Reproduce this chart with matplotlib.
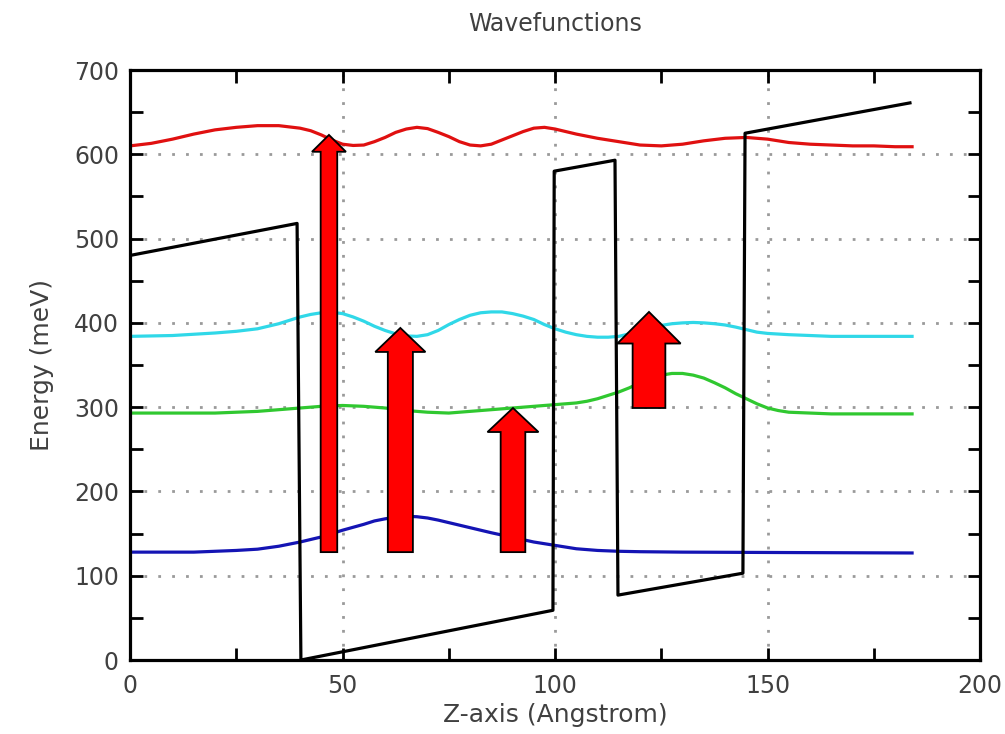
import matplotlib
matplotlib.use("Agg")
import matplotlib.pyplot as plt
from matplotlib.patches import FancyArrow
from matplotlib.ticker import MultipleLocator

# --- data ---------------------------------------------------------------
# state 4 (top)
z_red = [0, 5, 10, 15, 20, 25, 30, 35, 40, 42.5, 45, 47.5, 50, 52.5, 55,
         57.5, 60, 62.5, 65, 67.5, 70, 72.5, 75, 77.5, 80, 82.5, 85, 87.5,
         90, 92.5, 95, 97.5, 100, 105, 110, 115, 120, 125, 130, 135, 140,
         145, 150, 155, 160, 165, 170, 175, 180, 184]
e_red = [610, 613, 618, 624, 629, 632, 634, 634, 631, 628, 623, 617, 612,
         610.5, 611, 615, 620, 626, 630, 632, 630.5, 626, 621, 615, 611, 610,
         612, 617, 622, 627, 631, 632, 630, 624, 619, 615, 611, 610, 612, 616,
         619, 620, 618, 614, 612, 611, 610, 610, 609, 609]

# state 3
z_cyan = [0, 10, 20, 25, 30, 35, 37.5, 40, 42.5, 45, 47.5, 50, 52.5, 55,
          57.5, 60, 62.5, 65, 67.5, 70, 72.5, 75, 77.5, 80, 82.5, 85, 87.5,
          90, 92.5, 95, 97.5, 100, 102.5, 105, 107.5, 110, 112.5, 115, 117.5,
          120, 122.5, 125, 127.5, 130, 132.5, 135, 137.5, 140, 142.5, 145,
          147.5, 150, 155, 160, 165, 184]
e_cyan = [384, 385, 388, 390, 393, 399, 403, 407, 410, 412, 412.5, 411, 407,
          402, 396, 391, 387, 384.5, 384, 386, 391, 398, 404, 409, 412, 413,
          413, 411, 408, 404, 398, 393, 389, 386, 384, 383, 383, 384, 387,
          391, 394, 397, 399, 400, 400.5, 400, 399, 397.5, 395, 392, 389,
          387.5, 386, 385, 384, 384]

# state 2
z_green = [0, 20, 25, 30, 35, 40, 45, 50, 55, 60, 65, 70, 75, 80, 85, 90,
           95, 100, 105, 107.5, 110, 112.5, 115, 117.5, 120, 122.5, 125,
           127.5, 130, 132.5, 135, 137.5, 140, 142.5, 145, 147.5, 150, 152.5,
           155, 160, 165, 184]
e_green = [293, 293, 294, 295, 297, 299, 301, 302, 301, 299, 296, 294, 293,
           295, 297, 299, 301, 303, 305, 307, 310, 314, 318, 323, 329, 334,
           338, 340, 340, 338, 334.5, 329, 323, 316, 310, 304, 299, 296, 294,
           293, 292, 292]

# state 1 (ground)
z_blue = [0, 15, 20, 25, 30, 35, 40, 45, 50, 55, 57.5, 60, 62.5, 65, 67.5,
          70, 72.5, 75, 80, 85, 90, 95, 100, 105, 110, 115, 120, 130, 155,
          184]
e_blue = [128, 128, 129, 130, 131.5, 135, 140, 146, 154, 161, 165, 167.5,
          169.5, 170.5, 170, 168.5, 166, 163, 157, 151, 145.5, 140, 136, 132,
          130, 129, 128.5, 128, 127.5, 127]

# conduction band profile
band_z = [0, 39.3, 40.2, 99.5, 99.8, 114.1, 114.8, 144.2, 144.7, 183.5]
band_e = [480, 518, 0, 59, 580, 593, 77, 103, 625, 661]

# transitions: position, start level, end level
trans_z = [46.8, 63.6, 90.1, 122.1]
trans_from = [128, 128, 128, 299]
trans_to = [623, 394, 299, 413]

# --- plot -----------------------------------------------------------------
text_col = "#404040"
plt.rcParams["font.family"] = "DejaVu Sans"

fig = plt.figure(figsize=(10.05, 7.34), dpi=100)
ax = fig.add_axes([0.1294, 0.1008, 0.8458, 0.8038])

line_kw = dict(lw=2.3, zorder=2, solid_joinstyle="round")
ax.plot(z_red, e_red, color="#e01010", **line_kw)
ax.plot(z_cyan, e_cyan, color="#30d8e8", **line_kw)
ax.plot(z_green, e_green, color="#30c830", **line_kw)
ax.plot(z_blue, e_blue, color="#1414b4", **line_kw)
ax.plot(band_z, band_e, color="black", lw=2.3, zorder=2)

shaft_w = [3.9, 5.9, 5.8, 7.7]
head_w = [8.0, 11.8, 12.0, 14.9]
head_l = [20, 28.5, 28.5, 37.5]
for x0, e0, e1, sw, hw, hl in zip(trans_z, trans_from, trans_to,
                                  shaft_w, head_w, head_l):
    ax.add_patch(FancyArrow(x0, e0, 0, e1 - e0, width=sw, head_width=hw,
                            head_length=hl, length_includes_head=True,
                            facecolor="#ff0000", edgecolor="black",
                            lw=1.3, zorder=3))

ax.set_xlim(0, 200)
ax.set_ylim(0, 700)
ax.xaxis.set_major_locator(MultipleLocator(50))
ax.xaxis.set_minor_locator(MultipleLocator(25))
ax.yaxis.set_major_locator(MultipleLocator(100))
ax.yaxis.set_minor_locator(MultipleLocator(50))

ax.grid(which="major", color="#9a9a9a", linestyle=(0, (1, 4)), lw=2)
ax.tick_params(which="both", direction="in", top=True, right=True,
               length=9, width=2, colors="black", labelcolor=text_col,
               labelsize=17)
ax.tick_params(axis="x", pad=10)
ax.tick_params(axis="y", pad=8)
for s in ax.spines.values():
    s.set_linewidth(2.3)

ax.set_title("Wavefunctions", fontsize=17, color=text_col, pad=28)
ax.set_xlabel("Z-axis (Angstrom)", fontsize=18, color=text_col, labelpad=4)
ax.set_ylabel("Energy (meV)", fontsize=18, color=text_col, labelpad=14)

fig.savefig("out.png", dpi=100)
